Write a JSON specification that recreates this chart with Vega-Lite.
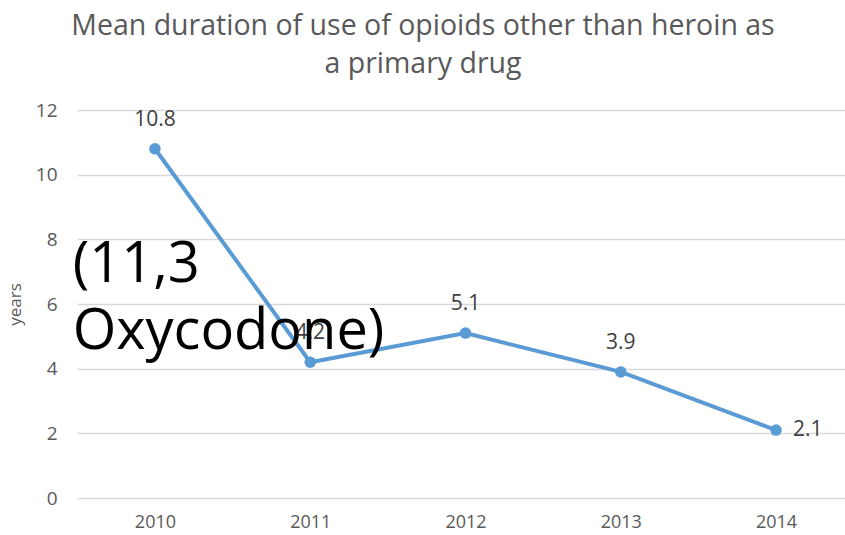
{
  "$schema": "https://vega.github.io/schema/vega-lite/v6.json",
  "width": 768,
  "height": 388,
  "autosize": {"type": "none"},
  "padding": {"left": 77, "top": 110, "right": 0, "bottom": 37},
  "background": "white",
  "config": {"view": {"stroke": null}, "font": "Open Sans"},
  "title": {
    "text": ["Mean duration of use of opioids other than heroin as", "a  primary drug"],
    "fontSize": 28.5,
    "fontWeight": "normal",
    "color": "#595959",
    "anchor": "middle",
    "dx": -38,
    "offset": 23,
    "lineHeight": 38,
    "font": "Open Sans"
  },
  "data": {
    "values": [
      {"year": 2010, "years": 10.8},
      {"year": 2011, "years": 4.2},
      {"year": 2012, "years": 5.1},
      {"year": 2013, "years": 3.9},
      {"year": 2014, "years": 2.1}
    ]
  },
  "encoding": {
    "x": {
      "field": "year",
      "type": "quantitative",
      "scale": {"domain": [2009.498, 2014.444], "nice": false, "zero": false},
      "axis": {
        "values": [2010, 2011, 2012, 2013, 2014],
        "format": "d",
        "title": null,
        "grid": false,
        "domain": false,
        "ticks": false,
        "labelFontSize": 18,
        "labelColor": "#595959",
        "labelPadding": 15,
        "labelFont": "Open Sans"
      }
    },
    "y": {
      "field": "years",
      "type": "quantitative",
      "scale": {"domain": [0, 12], "nice": false},
      "axis": {
        "values": [0, 2, 4, 6, 8, 10, 12],
        "title": "years",
        "titleFontSize": 17,
        "titleFontWeight": "normal",
        "titleColor": "#595959",
        "titlePadding": 11,
        "labelFontSize": 19,
        "labelColor": "#595959",
        "labelPadding": 20,
        "labelFont": "Open Sans",
        "titleFont": "Open Sans",
        "domain": false,
        "ticks": false,
        "gridColor": "#D9D9D9",
        "gridWidth": 1.5
      }
    }
  },
  "layer": [
    {"mark": {"type": "line", "color": "#5B9BD5", "strokeWidth": 4}},
    {"mark": {"type": "point", "filled": true, "color": "#5B9BD5", "size": 133, "opacity": 1}},
    {
      "transform": [{"filter": "datum.year < 2014"}],
      "mark": {"type": "text", "dy": -29, "fontSize": 21, "color": "#404040", "baseline": "middle"},
      "encoding": {"text": {"field": "years", "type": "quantitative", "format": ".1f"}}
    },
    {
      "transform": [{"filter": "datum.year == 2014"}],
      "mark": {"type": "text", "dx": 17, "fontSize": 21, "color": "#404040", "align": "left", "baseline": "middle"},
      "encoding": {"text": {"field": "years", "type": "quantitative", "format": ".1f"}}
    },
    {
      "data": {"values": [{"nx": 2009.47, "ny": 6.68, "note": "(11,3\nOxycodone)"}]},
      "mark": {"type": "text", "align": "left", "baseline": "alphabetic", "fontSize": 56, "lineHeight": 67, "lineBreak": "\n", "color": "black", "font": "Open Sans"},
      "encoding": {
        "x": {"field": "nx", "type": "quantitative"},
        "y": {"field": "ny", "type": "quantitative"},
        "text": {"field": "note"}
      }
    }
  ]
}
